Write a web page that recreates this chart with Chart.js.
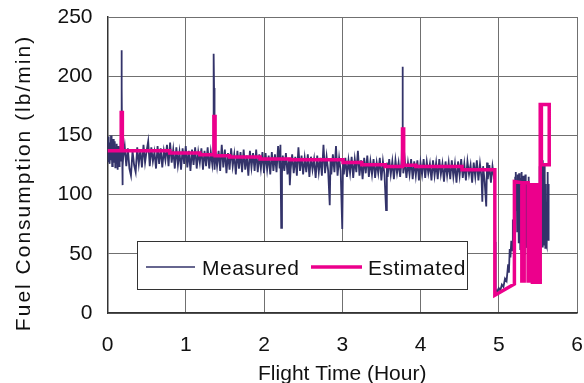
<!DOCTYPE html>
<html>
<head>
<meta charset="utf-8">
<script src="https://cdn.jsdelivr.net/npm/chart.js@4/dist/chart.umd.min.js"></script>
<style>
  html, body { margin: 0; padding: 0; background: #fff; }
  #chart1 { display: block; }
</style>
</head>
<body>
<canvas id="chart1" width="584" height="383"></canvas>
<script>
// x ticks (hours) and y ticks (lb/min)
var xTicks = [0, 1, 2, 3, 4, 5, 6];
var yTicks = [0, 50, 100, 150, 200, 250];
var seriesLabels = ["Measured", "Estimated"];

// measured fuel flow, [hour, lb/min]
var measured = [
  [0,138],[0.005,146],[0.01,128],[0.015,149],[0.02,131],[0.025,144],[0.03,126],[0.035,141],[0.04,133],[0.045,150],
  [0.05,129],[0.055,139],[0.06,124],[0.065,143],[0.07,135],[0.075,147],[0.08,127],[0.085,140],[0.09,132],[0.095,145],
  [0.10,123],[0.105,138],[0.11,130],[0.115,143],[0.12,126],[0.125,139],[0.13,121],[0.135,141],[0.14,129],[0.145,136],
  [0.15,124],[0.155,140],[0.16,133],[0.165,128],[0.17,141],[0.175,160],[0.178,200],[0.181,222],[0.184,190],[0.187,140],
  [0.19,108],[0.193,134],[0.196,124],
  [0.20,131],[0.22,141],[0.24,124],[0.26,139],[0.28,122],[0.30,116],[0.32,137],[0.34,125],[0.36,119],[0.38,140],
  [0.40,126],[0.42,138],[0.44,123],[0.46,142],[0.48,127],[0.50,137],[0.52,145],[0.54,124],[0.56,140],[0.58,128],
  [0.60,136],[0.62,122],[0.64,141],[0.66,126],[0.68,139],[0.70,123],[0.72,137],[0.74,129],[0.76,142],[0.78,124],
  [0.80,144],[0.82,127],[0.84,138],[0.86,122],[0.88,140],[0.90,125],[0.92,136],[0.94,121],[0.96,139],[0.98,126],
  [1.00,141],[1.02,123],[1.04,137],[1.06,120],[1.08,138],[1.10,125],[1.12,140],[1.14,122],[1.16,136],[1.18,127],
  [1.20,139],[1.22,121],[1.24,137],[1.26,124],[1.28,140],[1.30,122],[1.32,136],[1.34,125],
  [1.350,132],[1.355,170],[1.358,219],[1.362,190],[1.366,138],[1.37,121],[1.38,136],
  [1.40,124],[1.42,137],[1.44,120],[1.46,142],[1.48,123],[1.50,138],[1.52,118],[1.54,135],[1.56,121],[1.58,139],
  [1.60,124],[1.62,134],[1.64,117],[1.66,137],[1.68,122],[1.70,136],[1.72,119],[1.74,138],[1.76,121],[1.78,133],
  [1.80,116],[1.82,137],[1.84,123],[1.86,135],[1.88,120],[1.90,138],[1.92,119],[1.94,134],[1.96,122],[1.98,136],
  [2.00,118],[2.02,135],[2.04,121],[2.06,133],[2.08,117],[2.10,136],[2.12,120],[2.14,134],[2.16,119],[2.18,141],
  [2.20,122],[2.21,142],[2.22,72],[2.23,118],[2.24,133],[2.26,120],[2.28,135],[2.30,117],[2.32,131],[2.33,108],
  [2.34,121],[2.36,134],[2.38,118],[2.40,132],[2.42,116],[2.44,140],[2.46,120],[2.48,133],[2.50,117],[2.52,131],
  [2.54,119],[2.56,134],[2.58,115],[2.60,132],[2.62,121],[2.64,130],[2.66,114],[2.68,133],[2.70,119],[2.72,131],
  [2.74,116],[2.76,142],[2.78,118],[2.80,132],[2.82,120],[2.84,91],[2.85,130],[2.86,117],[2.88,134],[2.90,119],
  [2.92,141],[2.94,116],[2.96,131],[2.98,120],[3.00,71],[3.01,129],[3.02,117],[3.04,131],[3.06,115],[3.08,129],
  [3.10,118],[3.12,132],[3.14,114],[3.16,130],[3.18,119],[3.20,137],[3.22,116],[3.24,129],[3.26,113],[3.28,131],
  [3.30,118],[3.32,133],[3.34,115],[3.36,128],[3.38,117],[3.40,130],[3.42,114],[3.44,127],[3.46,118],[3.48,131],
  [3.50,112],[3.52,128],[3.54,117],[3.56,87],[3.57,127],[3.58,115],[3.60,130],[3.62,117],[3.64,128],[3.66,113],
  [3.68,129],[3.70,118],[3.72,127],[3.74,115],[3.76,130],[3.765,150],[3.77,208],[3.775,160],[3.78,118],[3.80,129],
  [3.82,114],[3.84,127],[3.86,117],[3.88,130],[3.90,113],[3.92,128],[3.94,116],[3.96,129],[3.98,112],[4.00,127],
  [4.02,117],[4.04,130],[4.06,114],[4.08,128],[4.10,118],[4.12,126],[4.14,112],[4.16,129],[4.18,116],[4.20,127],
  [4.22,113],[4.24,130],[4.26,117],[4.28,126],[4.30,111],[4.32,128],[4.34,116],[4.36,127],[4.38,113],[4.40,129],
  [4.42,115],[4.44,126],[4.46,110],[4.48,128],[4.50,116],[4.52,130],[4.54,114],[4.56,126],[4.58,112],[4.60,128],
  [4.62,117],[4.64,125],[4.66,110],[4.68,127],[4.70,115],[4.72,129],[4.74,112],[4.76,126],[4.78,114],[4.79,94],
  [4.80,124],[4.82,111],[4.84,90],[4.85,127],[4.86,113],[4.88,125],[4.90,110],[4.92,124],[4.94,114],[4.95,120],
  [4.955,60],[4.96,20],[4.98,18],[5.00,21],[5.02,19],[5.04,24],[5.06,22],[5.08,29],[5.10,27],[5.12,41],
  [5.13,34],[5.14,54],[5.15,47],[5.16,61],[5.17,53],[5.18,79],[5.19,65],[5.20,99],[5.205,84],[5.21,115],
  [5.215,94],[5.22,119],[5.225,87],[5.23,111],[5.235,69],[5.24,117],[5.245,81],[5.25,109],[5.255,59],[5.26,118],
  [5.265,74],[5.27,107],[5.275,54],[5.28,114],[5.285,67],[5.29,119],[5.295,51],[5.30,109],[5.305,77],[5.31,116],
  [5.315,57],[5.32,105],[5.325,63],[5.33,112],[5.335,49],[5.34,117],[5.345,71],[5.35,103],[5.355,55],[5.36,111],
  [5.365,79],[5.37,107],[5.375,59],[5.38,115],[5.385,65],[5.39,101],[5.395,53],[5.40,109],[5.405,75],[5.41,97],
  [5.415,57],[5.42,105],[5.425,69],[5.43,95],[5.435,61],[5.44,103],[5.445,73],[5.45,89],[5.46,69],[5.47,94],
  [5.48,74],[5.49,99],[5.50,79],[5.51,109],[5.515,69],[5.52,124],[5.525,63],[5.53,117],[5.535,59],[5.54,132],
  [5.545,61],[5.55,127],[5.555,56],[5.56,129],[5.565,65],[5.57,121],[5.575,57],[5.58,125],[5.585,61],[5.59,114],
  [5.595,55],[5.60,109],[5.605,59],[5.61,94],[5.615,57],[5.62,84],[5.625,119],[5.63,69],[5.635,109],[5.64,61]
];

// model estimate, [hour, lb/min]
var estimated = [
  [0,137.1],[0.175,137.1],[0.175,169.4],[0.19,169.4],[0.19,137.1],[0.795,137.1],[0.795,135.1],[1.18,135.1],
  [1.18,133.7],[1.36,133.7],[1.36,166],[1.375,166],[1.375,132.9],[1.56,132.9],[1.56,131.8],[1.95,131.8],
  [1.95,130.1],[2.33,130.1],[2.33,129.5],[3.01,129.5],[3.01,127.2],[3.25,127.2],[3.25,125.3],[3.55,125.3],
  [3.55,123.8],[3.77,123.8],[3.77,155.4],[3.785,155.4],[3.785,124.7],[3.94,124.7],[3.94,123.8],[4.53,123.8],
  [4.53,121],[4.95,121],[4.95,15],[5.20,24.5],[5.20,111],[5.295,110],[5.295,27],[5.325,27],[5.325,110],
  [5.375,110],[5.375,27],[5.40,27],[5.40,108.4],[5.43,108.4],[5.43,26],[5.475,26],[5.475,108.4],[5.495,108.4],
  [5.495,26],[5.53,26],[5.53,176],[5.645,176],[5.645,125.3],[5.545,125.3],[5.545,176]
];

var FONT = "'Liberation Sans', Arial, sans-serif";
var NAVY = "#33336a";
var PINK = "#ec008c";

function toXY(list) {
  return list.map(function (p) { return { x: p[0], y: p[1] }; });
}

// legend box sits inside the plot, bottom left
var boxLegend = {
  id: "boxLegend",
  afterDatasetsDraw: function (chart) {
    var ctx = chart.ctx;
    ctx.save();
    ctx.fillStyle = "#fff";
    ctx.fillRect(137.5, 241.5, 330, 48);
    ctx.strokeStyle = "#333";
    ctx.lineWidth = 1;
    ctx.strokeRect(137.5, 241.5, 330, 48);
    var items = [
      { ds: chart.data.datasets[0], w: 1.5, x1: 146, x2: 195, tx: 202 },
      { ds: chart.data.datasets[1], w: 3.5, x1: 311, x2: 362, tx: 368 }
    ];
    ctx.font = "21px " + FONT;
    ctx.textBaseline = "alphabetic";
    ctx.fillStyle = "#111";
    ctx.letterSpacing = "0.5px";
    items.forEach(function (it) {
      ctx.beginPath();
      ctx.strokeStyle = it.ds.borderColor;
      ctx.lineWidth = it.w;
      ctx.moveTo(it.x1, 267);
      ctx.lineTo(it.x2, 267);
      ctx.stroke();
      ctx.fillText(it.ds.label, it.tx, 274.5);
    });
    ctx.restore();
  }
};

// y axis title, drawn by hand so it can be spaced out like the original
var yTitle = {
  id: "yTitle",
  afterDraw: function (chart) {
    var ctx = chart.ctx;
    ctx.save();
    ctx.translate(24.5, 183);
    ctx.rotate(-Math.PI / 2);
    ctx.font = "21px " + FONT;
    ctx.fillStyle = "#111";
    ctx.textAlign = "center";
    ctx.textBaseline = "middle";
    ctx.letterSpacing = "2px";
    ctx.fillText("Fuel Consumption (lb/min)", 0, 0);
    ctx.restore();
  }
};

var ctx = document.getElementById("chart1");
var myChart = new Chart(ctx, {
  type: "line",
  data: {
    datasets: [
      {
        label: seriesLabels[0],
        data: toXY(measured),
        borderColor: NAVY,
        borderWidth: 1.8,
        pointRadius: 0,
        tension: 0,
        order: 1
      },
      {
        label: seriesLabels[1],
        data: toXY(estimated),
        borderColor: PINK,
        borderWidth: 3.5,
        pointRadius: 0,
        tension: 0,
        order: 0
      }
    ]
  },
  options: {
    responsive: false,
    animation: false,
    layout: { padding: { top: 17, right: 7, left: 0, bottom: 0 } },
    plugins: {
      legend: { display: false },
      tooltip: { enabled: false }
    },
    scales: {
      x: {
        type: "linear",
        min: xTicks[0],
        max: xTicks[xTicks.length - 1],
        afterBuildTicks: function (s) { s.ticks = xTicks.map(function (v) { return { value: v }; }); },
        afterFit: function (s) { s.height = 70; s.paddingLeft = 0; s.paddingRight = 0; },
        ticks: { font: { family: FONT, size: 21 }, color: "#111", padding: 20, maxRotation: 0 },
        grid: { color: "#707070", lineWidth: 1, drawTicks: false },
        border: { color: "#333", width: 1.5 },
        title: {
          display: true,
          text: "Flight Time (Hour)",
          color: "#111",
          font: { family: FONT, size: 21, lineHeight: 1 },
          padding: { top: 0, bottom: -2 }
        }
      },
      y: {
        min: yTicks[0],
        max: yTicks[yTicks.length - 1],
        afterBuildTicks: function (s) { s.ticks = yTicks.map(function (v) { return { value: v }; }); },
        afterFit: function (s) { s.width = 107.5; s.paddingTop = 0; s.paddingBottom = 0; },
        ticks: { font: { family: FONT, size: 21 }, color: "#111", padding: 15 },
        grid: { color: "#707070", lineWidth: 1, drawTicks: false },
        border: { color: "#333", width: 1.5 }
      }
    }
  },
  plugins: [boxLegend, yTitle]
});
</script>
</body>
</html>
